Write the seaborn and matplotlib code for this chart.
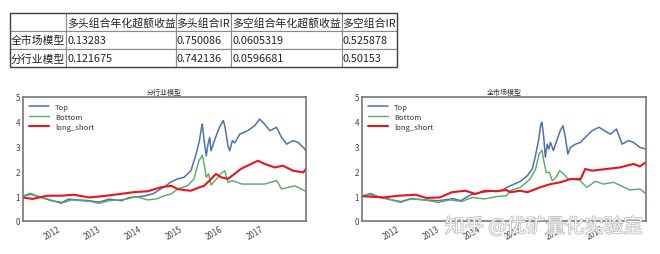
import matplotlib
matplotlib.use("Agg")
import matplotlib.pyplot as plt
import matplotlib.dates as mdates
import matplotlib.patheffects as pe
import seaborn as sns
import pandas as pd

# ---------------- table data ----------------
table_cols = ["", "多头组合年化超额收益", "多头组合IR", "多空组合年化超额收益", "多空组合IR"]
table_rows = ["全市场模型", "分行业模型"]
long_excess = ["0.13283", "0.121675"]
long_ir = ["0.750086", "0.742136"]
ls_excess = ["0.0605319", "0.0596681"]
ls_ir = ["0.525878", "0.50153"]

# ---------------- chart 1: 分行业模型 ----------------
ind_top_dates = ["2011-01-20", "2011-04-01", "2011-07-01", "2011-10-01", "2012-01-05", "2012-03-01",
                 "2012-06-01", "2012-09-01", "2012-12-01", "2013-03-01", "2013-06-20", "2013-09-01",
                 "2014-01-01", "2014-04-01", "2014-06-10", "2014-08-01", "2014-09-01", "2014-11-05",
                 "2015-01-01", "2015-03-05", "2015-04-20", "2015-05-20", "2015-06-10", "2015-06-15",
                 "2015-07-01", "2015-07-20", "2015-08-05", "2015-08-20", "2015-09-01", "2015-10-01",
                 "2015-11-15", "2015-12-20", "2016-01-05", "2016-01-30", "2016-02-15", "2016-03-10",
                 "2016-04-01", "2016-05-15", "2016-07-25", "2016-09-25", "2016-11-10", "2016-12-25",
                 "2017-02-10", "2017-04-10", "2017-05-25", "2017-07-10", "2017-09-05", "2017-10-20",
                 "2017-12-05", "2017-12-29"]
ind_top = [1.00, 1.08, 0.95, 0.82, 0.75, 0.88, 0.85, 0.82, 0.76, 0.88, 0.82, 0.95,
           1.00, 1.10, 1.30, 1.45, 1.56, 1.70, 1.76, 2.03, 2.70, 3.24, 3.84, 3.91,
           3.24, 2.63, 3.10, 3.37, 2.83, 3.24, 3.78, 4.05, 3.78, 3.04, 2.83, 3.24,
           3.15, 3.50, 3.64, 3.84, 4.11, 3.90, 3.64, 3.78, 3.37, 3.10, 3.24, 3.17,
           2.97, 2.84]

ind_bot_dates = ["2011-01-20", "2011-03-25", "2011-06-15", "2011-09-25", "2011-12-25", "2012-04-01",
                 "2012-06-20", "2012-09-15", "2012-12-01", "2013-03-01", "2013-06-01", "2013-08-10",
                 "2013-11-01", "2014-02-10", "2014-05-01", "2014-07-10", "2014-09-10", "2014-11-05",
                 "2015-02-01", "2015-04-01", "2015-05-15", "2015-06-15", "2015-07-01", "2015-07-20",
                 "2015-08-10", "2015-09-01", "2015-10-20", "2015-11-25", "2016-01-01", "2016-01-30",
                 "2016-03-10", "2016-06-01", "2016-09-20", "2016-12-25", "2017-04-10", "2017-05-25",
                 "2017-09-20", "2017-12-29"]
ind_bot = [1.00, 1.12, 0.98, 0.85, 0.71, 0.85, 0.82, 0.79, 0.71, 0.82, 0.85, 0.89,
           0.98, 0.85, 0.89, 1.02, 1.09, 1.29, 1.42, 1.69, 2.43, 2.65, 2.30, 1.76,
           1.90, 1.45, 1.69, 1.90, 2.03, 1.56, 1.63, 1.49, 1.49, 1.49, 1.63, 1.29,
           1.42, 1.20]

ind_ls_dates = ["2011-01-20", "2011-04-15", "2011-08-25", "2012-01-01", "2012-04-20", "2012-09-01",
                "2013-01-01", "2013-06-10", "2013-10-01", "2014-02-10", "2014-06-10", "2014-09-10",
                "2014-11-05", "2015-01-01", "2015-03-05", "2015-05-20", "2015-07-01", "2015-09-01",
                "2015-10-15", "2015-12-01", "2016-01-30", "2016-03-10", "2016-05-25", "2016-08-25",
                "2016-10-25", "2016-12-25", "2017-03-25", "2017-06-05", "2017-09-05", "2017-12-05",
                "2017-12-29"]
ind_ls = [0.95, 0.89, 1.02, 1.02, 1.06, 0.95, 1.00, 1.09, 1.16, 1.20, 1.36, 1.42,
          1.29, 1.25, 1.22, 1.36, 1.42, 1.69, 1.90, 1.76, 1.70, 1.83, 2.10, 2.30,
          2.43, 2.30, 2.16, 2.23, 2.03, 1.96, 2.10]

# ---------------- chart 2: 全市场模型 ----------------
mkt_top_dates = ["2011-01-20", "2011-04-01", "2011-07-01", "2011-10-15", "2012-01-01", "2012-04-01",
                 "2012-08-01", "2012-12-01", "2013-04-15", "2013-06-20", "2013-09-15", "2013-12-15",
                 "2014-03-15", "2014-06-10", "2014-09-05", "2014-12-05", "2015-02-05", "2015-03-20",
                 "2015-04-15", "2015-05-15", "2015-06-05", "2015-06-15", "2015-07-01", "2015-07-15",
                 "2015-08-01", "2015-08-15", "2015-08-30", "2015-09-25", "2015-10-25", "2015-11-25",
                 "2015-12-20", "2016-01-10", "2016-02-01", "2016-02-25", "2016-04-10", "2016-05-25",
                 "2016-07-05", "2016-09-05", "2016-11-05", "2016-12-25", "2017-02-15", "2017-04-10",
                 "2017-05-30", "2017-07-25", "2017-09-10", "2017-11-05", "2017-12-29"]
mkt_top = [1.00, 1.08, 0.95, 0.85, 0.78, 0.90, 0.85, 0.82, 0.90, 0.82, 1.05, 1.15,
           1.20, 1.22, 1.42, 1.60, 1.83, 2.10, 2.57, 3.24, 3.91, 3.98, 3.37, 2.57,
           3.10, 2.90, 3.17, 2.84, 3.24, 3.64, 3.84, 3.37, 2.70, 2.97, 3.10, 3.17,
           3.37, 3.64, 3.78, 3.64, 3.50, 3.71, 3.10, 3.24, 3.17, 2.97, 2.90]

mkt_bot_dates = ["2011-01-20", "2011-04-05", "2011-06-15", "2011-10-15", "2011-12-28", "2012-04-01",
                 "2012-08-01", "2012-12-01", "2013-03-15", "2013-06-30", "2013-09-30", "2014-01-20",
                 "2014-05-01", "2014-08-01", "2014-09-05", "2014-12-05", "2015-03-01", "2015-04-20",
                 "2015-05-20", "2015-06-15", "2015-07-01", "2015-07-22", "2015-08-20", "2015-09-15",
                 "2015-10-20", "2015-11-20", "2015-12-25", "2016-02-05", "2016-03-20", "2016-05-20",
                 "2016-07-20", "2016-10-05", "2016-12-15", "2017-03-15", "2017-05-20", "2017-08-10",
                 "2017-11-05", "2017-12-29"]
mkt_bot = [1.00, 1.12, 0.98, 0.85, 0.75, 0.89, 0.85, 0.75, 0.85, 0.79, 0.95, 0.89,
           0.98, 1.02, 1.22, 1.36, 1.69, 2.10, 2.70, 2.85, 2.43, 1.96, 1.96, 1.63,
           1.76, 2.03, 1.90, 1.69, 1.70, 1.63, 1.36, 1.60, 1.49, 1.56, 1.42, 1.25,
           1.29, 1.10]

mkt_ls_dates = ["2011-01-20", "2011-08-01", "2011-12-15", "2012-05-15", "2012-08-15", "2012-12-15",
                "2013-04-01", "2013-07-30", "2013-10-30", "2014-01-20", "2014-05-01", "2014-08-01",
                "2014-09-05", "2014-12-05", "2015-02-05", "2015-05-30", "2015-09-01", "2015-11-25",
                "2016-02-25", "2016-05-25", "2016-07-05", "2016-09-05", "2017-01-15", "2017-05-10",
                "2017-09-10", "2017-11-05", "2017-12-29"]
mkt_ls = [1.00, 0.95, 1.02, 1.06, 0.93, 0.95, 1.16, 1.22, 1.09, 1.22, 1.20, 1.25,
          1.16, 1.22, 1.16, 1.36, 1.49, 1.56, 1.69, 1.69, 2.10, 2.03, 2.10, 2.16,
          2.30, 2.20, 2.37]

series_names = ["Top", "Bottom", "long_short"]
palette = {"Top": "#4C72B0", "Bottom": "#55A868", "long_short": "#e8141a"}
widths = {"Top": 1.1, "Bottom": 1.0, "long_short": 1.5}


def make_df(parts):
    frames = []
    for name, d, v in parts:
        frames.append(pd.DataFrame({"date": pd.to_datetime(d), "value": v, "series": name}))
    return pd.concat(frames, ignore_index=True)


sns.set_theme(style="white")
plt.rcParams["font.family"] = ["Noto Sans CJK SC", "DejaVu Sans"]

fig = plt.figure(figsize=(6.6, 2.55), dpi=100)
W, H = 660.0, 255.0

# ---------------- table ----------------
tax = fig.add_axes([10 / W, 1 - 68 / H, (397 - 10) / W, (68 - 14) / H])
tax.axis("off")
cell_text = [[table_cols[0]] + table_cols[1:]]
for i, r in enumerate(table_rows):
    cell_text.append([r, long_excess[i], long_ir[i], ls_excess[i], ls_ir[i]])
col_w = [56, 110, 55, 111, 55]
tot = float(sum(col_w))
tbl = tax.table(cellText=cell_text, colWidths=[c / tot for c in col_w],
                cellLoc="left", bbox=[0, 0, 1, 1])
tbl.auto_set_font_size(False)
for (r, c), cell in tbl.get_celld().items():
    cell.set_edgecolor("#8a8a8a")
    cell.set_linewidth(0.8)
    cell.PAD = 0.01
    t = cell.get_text()
    t.set_fontsize(7.8)
    t.set_color("#222222")
    t.set_fontfamily(["Noto Sans CJK SC", "DejaVu Sans"])
tax.add_patch(plt.Rectangle((0, 0), 1, 1, transform=tax.transAxes, fill=False,
                            edgecolor="#444444", linewidth=1.0, clip_on=False))

# ---------------- charts ----------------
charts = [
    ([23 / W, 1 - 222 / H, (306 - 23) / W, (222 - 98) / H], "分行业模型",
     make_df([("Top", ind_top_dates, ind_top), ("Bottom", ind_bot_dates, ind_bot),
              ("long_short", ind_ls_dates, ind_ls)])),
    ([362 / W, 1 - 222 / H, (646 - 362) / W, (222 - 98) / H], "全市场模型",
     make_df([("Top", mkt_top_dates, mkt_top), ("Bottom", mkt_bot_dates, mkt_bot),
              ("long_short", mkt_ls_dates, mkt_ls)])),
]

for rect, title, df in charts:
    ax = fig.add_axes(rect)
    for name in series_names:
        sub = df[df["series"] == name]
        sns.lineplot(data=sub, x="date", y="value", ax=ax, color=palette[name],
                     linewidth=widths[name], label=name, sort=True)
    ax.set_xlim(pd.Timestamp("2011-01-20"), pd.Timestamp("2017-12-30"))
    ax.set_ylim(0, 5)
    ax.set_yticks([0, 1, 2, 3, 4, 5])
    ax.xaxis.set_major_locator(mdates.YearLocator())
    ax.xaxis.set_major_formatter(mdates.DateFormatter("%Y"))
    for lab in ax.get_xticklabels():
        lab.set_rotation(30)
        lab.set_ha("right")
    ax.tick_params(axis="both", labelsize=5.8, colors="#444444", length=0, pad=2)
    ax.set_xlabel("")
    ax.set_ylabel("")
    ax.set_title(title, fontsize=5, color="#333333", pad=2)
    for sp in ax.spines.values():
        sp.set_color("#777777")
        sp.set_linewidth(1.2)
    handles, labels = ax.get_legend_handles_labels()
    ax.legend(handles, labels, loc="upper left", frameon=False, fontsize=5.5,
              handlelength=2.6, labelspacing=0.25, borderaxespad=0.4,
              labelcolor="#333333")

# watermark
fig.text(445 / W, 1 - 228 / H, "知乎 @优矿量化实验室", fontsize=14, color="white",
         ha="left", va="center", alpha=0.9,
         path_effects=[pe.withStroke(linewidth=1.0, foreground="#b0b0b0")])

fig.savefig("out.png", dpi=100)
